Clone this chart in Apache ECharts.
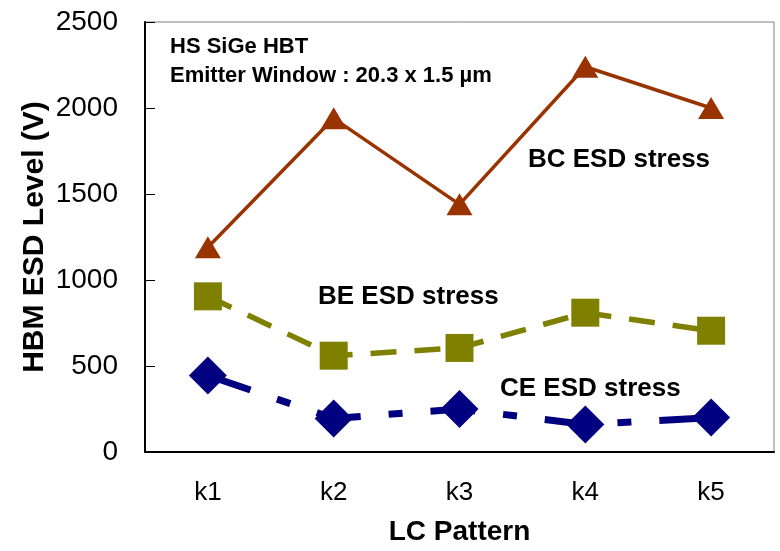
<!DOCTYPE html>
<html><head><meta charset="utf-8">
<script src="https://cdn.jsdelivr.net/npm/echarts@6/dist/echarts.min.js"></script>
<style>html,body{margin:0;padding:0;background:#fff}#c{width:780px;height:551px}</style>
</head><body><div id="c"></div>
<script>
const categories = ['k1','k2','k3','k4','k5'];
const bcValues = [1190, 1940, 1440, 2240, 2000];
const beValues = [905, 560, 605, 810, 705];
const ceValues = [445, 195, 250, 160, 200];
const yTicks = [0, 500, 1000, 1500, 2000, 2500];

const chart = echarts.init(document.getElementById('c'));
const F = '"Liberation Sans", Arial, sans-serif';
chart.setOption({
  animation: false,
  grid: {left: 145, right: 6, top: 22, bottom: 98, show: true, borderColor: '#808080', borderWidth: 1},
  xAxis: {
    type: 'category', data: categories, boundaryGap: true,
    name: 'LC Pattern', nameLocation: 'middle', nameGap: 66, nameMoveOverlap: false,
    nameTextStyle: {fontFamily: F, fontWeight: 'bold', fontSize: 28, color: '#000'},
    axisLine: {lineStyle: {color: '#000', width: 2}},
    axisTick: {inside: true, length: 10, lineStyle: {color: '#000'}},
    axisLabel: {fontFamily: F, fontSize: 26, color: '#000', margin: 28}
  },
  yAxis: {
    type: 'value', min: yTicks[0], max: yTicks[yTicks.length-1], interval: 500,
    name: 'HBM ESD Level (V)', nameLocation: 'middle', nameGap: 95, nameMoveOverlap: false,
    nameTextStyle: {fontFamily: F, fontWeight: 'bold', fontSize: 30, color: '#000'},
    axisLine: {show: true, lineStyle: {color: '#000', width: 2}},
    axisTick: {show: true, inside: true, length: 10, lineStyle: {color: '#000'}},
    axisLabel: {fontFamily: F, fontSize: 28, color: '#000', margin: 27, formatter: v => String(v)},
    splitLine: {show: false}
  },
  series: [
    {name: 'BC', type: 'line', data: bcValues, symbol: 'triangle', symbolSize: [26, 22],
     lineStyle: {color: '#993300', width: 3.5}, itemStyle: {color: '#993300'}},
    {name: 'BE', type: 'line', data: beValues, symbol: 'rect', symbolSize: 28,
     lineStyle: {color: '#808000', width: 5.5, type: [26, 18]}, itemStyle: {color: '#808000'}},
    {name: 'CE', type: 'line', data: ceValues, symbol: 'diamond', symbolSize: 38,
     lineStyle: {color: '#000080', width: 7, type: [45, 28, 14, 28]}, itemStyle: {color: '#000080'}}
  ],
  graphic: [
    {type: 'text', left: 170, top: 36, style: {text: 'HS SiGe HBT', font: 'bold 22px ' + F, fill: '#000'}},
    {type: 'text', left: 170, top: 65, style: {text: 'Emitter Window : 20.3 x 1.5 µm', font: 'bold 22px ' + F, fill: '#000'}},
    {type: 'text', left: 528, top: 147, style: {text: 'BC ESD stress', font: 'bold 26px ' + F, fill: '#000'}},
    {type: 'text', left: 318, top: 284, style: {text: 'BE ESD stress', font: 'bold 26px ' + F, fill: '#000'}},
    {type: 'text', left: 500, top: 376, style: {text: 'CE ESD stress', font: 'bold 26px ' + F, fill: '#000'}}
  ]
});
</script></body></html>
